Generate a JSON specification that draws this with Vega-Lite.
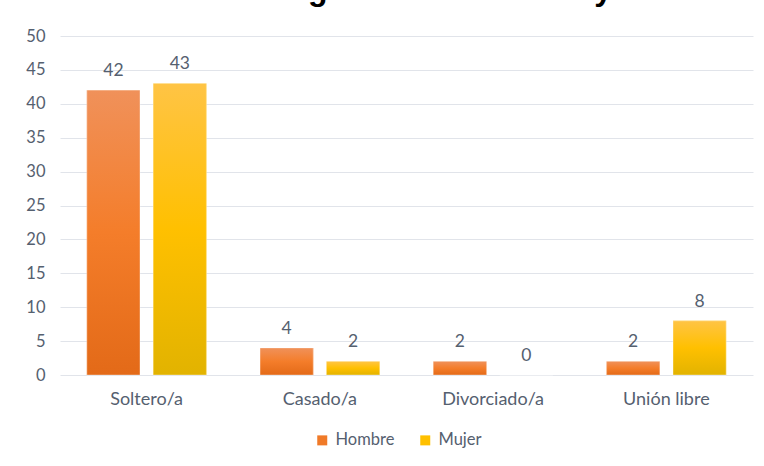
{
  "$schema": "https://vega.github.io/schema/vega-lite/v6.json",
  "width": 693,
  "height": 339,
  "autosize": {"type": "none"},
  "padding": {"left": 60, "top": 36, "right": 11, "bottom": 91},
  "background": "white",
  "title": {
    "text": "Estudiantes según el estado civil y sexo.",
    "font": "Liberation Sans",
    "fontSize": 32,
    "fontWeight": "bold",
    "color": "#000000",
    "anchor": "middle",
    "dx": -14,
    "baseline": "alphabetic",
    "offset": -3.5
  },
  "config": {
    "view": {"stroke": null},
    "font": "Lato"
  },
  "data": {
    "values": [
      {"estado": "Soltero/a", "sexo": "Hombre", "n": 42},
      {"estado": "Soltero/a", "sexo": "Mujer", "n": 43},
      {"estado": "Casado/a", "sexo": "Hombre", "n": 4},
      {"estado": "Casado/a", "sexo": "Mujer", "n": 2},
      {"estado": "Divorciado/a", "sexo": "Hombre", "n": 2},
      {"estado": "Divorciado/a", "sexo": "Mujer", "n": 0},
      {"estado": "Unión libre", "sexo": "Hombre", "n": 2},
      {"estado": "Unión libre", "sexo": "Mujer", "n": 8}
    ]
  },
  "encoding": {
    "x": {
      "field": "estado",
      "type": "nominal",
      "sort": ["Soltero/a", "Casado/a", "Divorciado/a", "Unión libre"],
      "scale": {"paddingInner": 0.31, "paddingOuter": 0.155},
      "axis": {
        "title": null,
        "domain": false,
        "ticks": false,
        "labelAngle": 0,
        "labelFont": "Lato",
        "labelFontSize": 18,
        "labelColor": "#55606f",
        "labelPadding": 15
      }
    },
    "xOffset": {
      "field": "sexo",
      "type": "nominal",
      "sort": ["Hombre", "Mujer"],
      "scale": {"paddingInner": 0.2, "paddingOuter": 0}
    },
    "y": {
      "field": "n",
      "type": "quantitative",
      "scale": {"domain": [0, 50], "nice": false},
      "axis": {
        "title": null,
        "domain": false,
        "ticks": false,
        "values": [0, 5, 10, 15, 20, 25, 30, 35, 40, 45, 50],
        "labelFont": "Lato",
        "labelFontSize": 16.5,
        "labelColor": "#55606f",
        "labelPadding": 15,
        "gridColor": "#e1e4ea",
        "gridWidth": 1
      }
    }
  },
  "layer": [
    {
      "mark": {"type": "bar"},
      "encoding": {
        "color": {
          "field": "sexo",
          "type": "nominal",
          "scale": {"domain": ["Hombre", "Mujer"], "range": ["#F07A28", "#FFC000"]},
          "legend": {
            "title": null,
            "orient": "none",
            "legendX": 254,
            "legendY": 396,
            "direction": "horizontal",
            "symbolType": "square",
            "symbolSize": 100,
            "symbolStrokeWidth": 0,
            "symbolOpacity": 1,
            "labelFont": "Lato",
            "labelFontSize": 16.5,
            "labelColor": "#55606f",
            "labelOffset": 5,
            "columnPadding": 22
          }
        }
      }
    },
    {
      "mark": {"type": "bar", "stroke": "#ffffff", "strokeOpacity": 0.35, "strokeWidth": 1},
      "encoding": {
        "fill": {
          "condition": {
            "test": "datum.sexo === 'Hombre'",
            "value": {
              "gradient": "linear",
              "x1": 0, "y1": 0, "x2": 0, "y2": 1,
              "stops": [
                {"offset": 0, "color": "#F0915A"},
                {"offset": 0.5, "color": "#F47D2A"},
                {"offset": 1, "color": "#E36A18"}
              ]
            }
          },
          "value": {
            "gradient": "linear",
            "x1": 0, "y1": 0, "x2": 0, "y2": 1,
            "stops": [
              {"offset": 0, "color": "#FFC445"},
              {"offset": 0.5, "color": "#FFC000"},
              {"offset": 1, "color": "#E2B300"}
            ]
          }
        }
      }
    },
    {
      "mark": {
        "type": "text",
        "baseline": "alphabetic",
        "dy": -14,
        "font": "Lato",
        "fontSize": 17.5,
        "color": "#55606f"
      },
      "encoding": {"text": {"field": "n", "type": "quantitative"}}
    }
  ]
}
